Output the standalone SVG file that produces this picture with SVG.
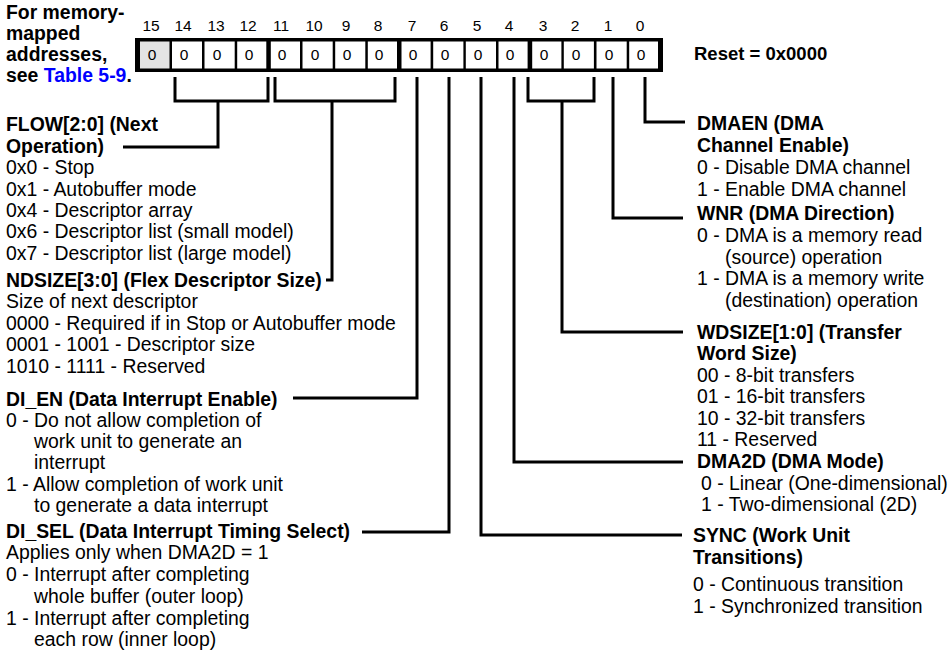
<svg xmlns="http://www.w3.org/2000/svg" width="951" height="651" viewBox="0 0 951 651">
<style>
text{font-family:"Liberation Sans",Arial,Helvetica,sans-serif;font-size:19.4px;fill:#000}
.b{font-weight:bold}
.n{font-size:15.5px;text-anchor:middle}
.v{font-size:15.5px;text-anchor:middle}
.cell{fill:#fff}
.c{fill:none;stroke:#000;stroke-width:3;stroke-linejoin:miter;stroke-linecap:butt}
.lnk{fill:#0000ff}
</style>
<rect width="951" height="651" fill="#fff"/>

<g id="register-note">
<text class="b" x="6" y="19">For memory-</text>
<text class="b" x="6" y="40">mapped</text>
<text class="b" x="6" y="61">addresses,</text>
<text class="b" x="6" y="82">see <tspan class="lnk">Table 5-9</tspan>.</text>
</g>

<g id="register">
<g id="bit-numbers">
<text class="n" x="151" y="31">15</text>
<text class="n" x="183" y="31">14</text>
<text class="n" x="216" y="31">13</text>
<text class="n" x="248" y="31">12</text>
<text class="n" x="281" y="31">11</text>
<text class="n" x="314" y="31">10</text>
<text class="n" x="346" y="31">9</text>
<text class="n" x="378" y="31">8</text>
<text class="n" x="412" y="31">7</text>
<text class="n" x="444" y="31">6</text>
<text class="n" x="477" y="31">5</text>
<text class="n" x="509" y="31">4</text>
<text class="n" x="543" y="31">3</text>
<text class="n" x="575" y="31">2</text>
<text class="n" x="608" y="31">1</text>
<text class="n" x="640" y="31">0</text>
</g>
<rect x="135" y="38" width="528" height="34" fill="#000"/>
<rect x="140" y="41.5" width="29.5" height="27" fill="#e4e4e4"/>
<rect class="cell" x="172" y="41.5" width="30" height="27"/>
<rect class="cell" x="204.5" y="41.5" width="30.2" height="27"/>
<rect class="cell" x="237.2" y="41.5" width="29.1" height="27"/>
<rect class="cell" x="270.8" y="41.5" width="29.2" height="27"/>
<rect class="cell" x="302.5" y="41.5" width="30.2" height="27"/>
<rect class="cell" x="335.2" y="41.5" width="30.1" height="27"/>
<rect class="cell" x="367.8" y="41.5" width="29.2" height="27"/>
<rect class="cell" x="401.5" y="41.5" width="29.1" height="27"/>
<rect class="cell" x="433.2" y="41.5" width="30.2" height="27"/>
<rect class="cell" x="465.8" y="41.5" width="30.2" height="27"/>
<rect class="cell" x="498.5" y="41.5" width="29.1" height="27"/>
<rect class="cell" x="532.2" y="41.5" width="29.2" height="27"/>
<rect class="cell" x="563.8" y="41.5" width="30.1" height="27"/>
<rect class="cell" x="596.5" y="41.5" width="30.2" height="27"/>
<rect class="cell" x="629.2" y="41.5" width="28.8" height="27"/>
<g id="bit-values">
<text class="v" x="152" y="60">0</text>
<text class="v" x="184" y="60">0</text>
<text class="v" x="217" y="60">0</text>
<text class="v" x="249" y="60">0</text>
<text class="v" x="282" y="60">0</text>
<text class="v" x="315" y="60">0</text>
<text class="v" x="347" y="60">0</text>
<text class="v" x="379" y="60">0</text>
<text class="v" x="413" y="60">0</text>
<text class="v" x="445" y="60">0</text>
<text class="v" x="478" y="60">0</text>
<text class="v" x="510" y="60">0</text>
<text class="v" x="544" y="60">0</text>
<text class="v" x="576" y="60">0</text>
<text class="v" x="609" y="60">0</text>
<text class="v" x="641" y="60">0</text>
</g>
</g>

<g id="reset">
<text class="b" x="694" y="60" style="font-size:18.5px">Reset = 0x0000</text>
</g>

<g id="connectors">
<path class="c" d="M175,77 V101 H268 V77 M218,101 V147 H123"/>
<path class="c" d="M275,77 V101 H395 V77 M332,101 V280 H326"/>
<path class="c" d="M417,77 V398 H293"/>
<path class="c" d="M449,77 V532 H362"/>
<path class="c" d="M481,77 V535 H682"/>
<path class="c" d="M514,77 V462 H683"/>
<path class="c" d="M528,77 V101 H594 V77 M562,101 V332 H683"/>
<path class="c" d="M613,77 V218 H683"/>
<path class="c" d="M645,77 V122 H685"/>
</g>

<g id="flow">
<text class="b" x="6" y="131">FLOW[2:0] (Next</text>
<text class="b" x="6" y="152.5">Operation)</text>
<text x="6" y="174">0x0 - Stop</text>
<text x="6" y="195.5">0x1 - Autobuffer mode</text>
<text x="6" y="217">0x4 - Descriptor array</text>
<text x="6" y="238">0x6 - Descriptor list (small model)</text>
<text x="6" y="259.5">0x7 - Descriptor list (large model)</text>
</g>

<g id="ndsize">
<text class="b" x="6" y="286.5">NDSIZE[3:0] (Flex Descriptor Size)</text>
<text x="6" y="308">Size of next descriptor</text>
<text x="6" y="329.5">0000 - Required if in Stop or Autobuffer mode</text>
<text x="6" y="351">0001 - 1001 - Descriptor size</text>
<text x="6" y="372.5">1010 - 1111 - Reserved</text>
</g>

<g id="di_en">
<text class="b" x="6" y="405.5">DI_EN (Data Interrupt Enable)</text>
<text x="6" y="427">0 - Do not allow completion of</text>
<text x="34" y="448">work unit to generate an</text>
<text x="34" y="469">interrupt</text>
<text x="6" y="490.5">1 - Allow completion of work unit</text>
<text x="34" y="512">to generate a data interrupt</text>
</g>

<g id="di_sel">
<text class="b" x="6" y="537.5">DI_SEL (Data Interrupt Timing Select)</text>
<text x="6" y="559">Applies only when DMA2D = 1</text>
<text x="6" y="581">0 - Interrupt after completing</text>
<text x="34" y="602.5">whole buffer (outer loop)</text>
<text x="6" y="624.5">1 - Interrupt after completing</text>
<text x="34" y="646">each row (inner loop)</text>
</g>

<g id="dmaen">
<text class="b" x="697" y="130">DMAEN (DMA</text>
<text class="b" x="697" y="152">Channel Enable)</text>
<text x="697" y="174">0 - Disable DMA channel</text>
<text x="697" y="196">1 - Enable DMA channel</text>
</g>

<g id="wnr">
<text class="b" x="697" y="220">WNR (DMA Direction)</text>
<text x="697" y="242">0 - DMA is a memory read</text>
<text x="725" y="263.5">(source) operation</text>
<text x="697" y="285">1 - DMA is a memory write</text>
<text x="725" y="306.5">(destination) operation</text>
</g>

<g id="wdsize">
<text class="b" x="697" y="338.5">WDSIZE[1:0] (Transfer</text>
<text class="b" x="697" y="360">Word Size)</text>
<text x="697" y="381.5">00 - 8-bit transfers</text>
<text x="697" y="403">01 - 16-bit transfers</text>
<text x="697" y="424.5">10 - 32-bit transfers</text>
<text x="697" y="446">11 - Reserved</text>
</g>

<g id="dma2d">
<text class="b" x="697" y="468">DMA2D (DMA Mode)</text>
<text x="701" y="489.5">0 - Linear (One-dimensional)</text>
<text x="701" y="511">1 - Two-dimensional (2D)</text>
</g>

<g id="sync">
<text class="b" x="693" y="542">SYNC (Work Unit</text>
<text class="b" x="693" y="564">Transitions)</text>
<text x="693" y="591">0 - Continuous transition</text>
<text x="693" y="612.5">1 - Synchronized transition</text>
</g>
</svg>
